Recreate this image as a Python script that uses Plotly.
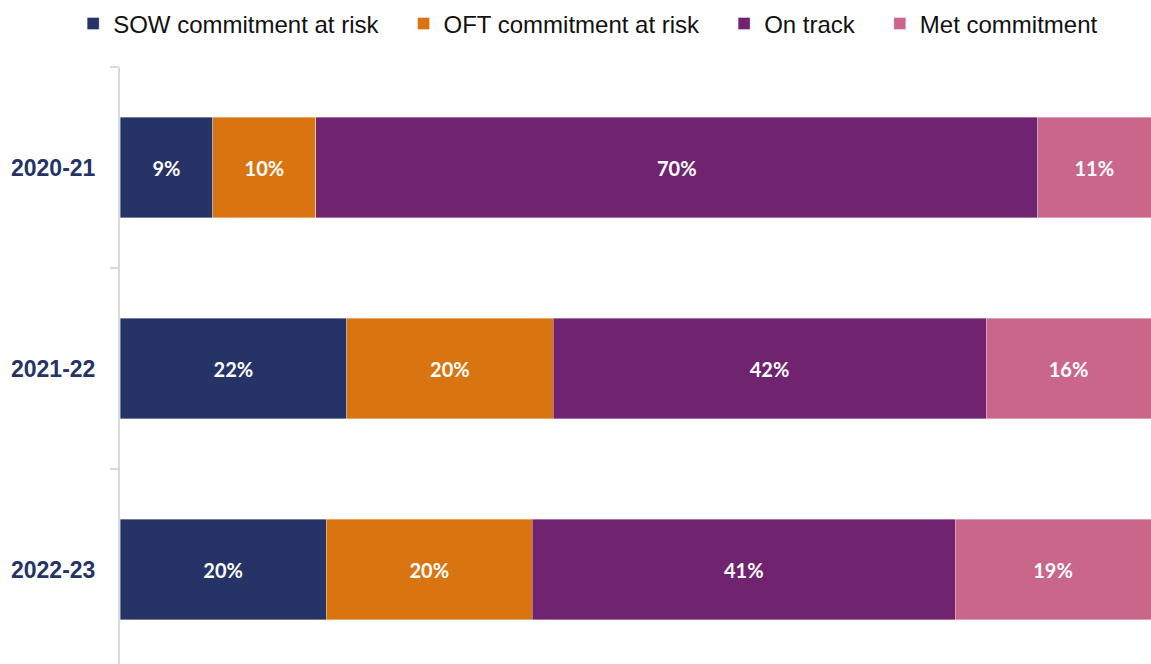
import plotly.graph_objects as go

years = ["2020-21", "2021-22", "2022-23"]
sow_at_risk = [9, 22, 20]
oft_at_risk = [10, 20, 20]
on_track = [70, 42, 41]
met = [11, 16, 19]

series = [
    ("SOW commitment at risk", sow_at_risk, "#263366"),
    ("OFT commitment at risk", oft_at_risk, "#D97511"),
    ("On track", on_track, "#70236F"),
    ("Met commitment", met, "#CB668B"),
]

# non-breaking padding widens the gap between legend entries
pad = "\u00a0" * 3

fig = go.Figure()
for i, (name, vals, color) in enumerate(series):
    fig.add_trace(go.Bar(
        name=name + (pad if i < len(series) - 1 else ""),
        y=years,
        x=vals,
        orientation="h",
        width=0.5,
        marker=dict(color=color, line=dict(color="rgba(255,255,255,0.6)", width=0.6)),
        text=[f"{v}%" for v in vals],
        textposition="inside",
        insidetextanchor="middle",
        textangle=0,
        textfont=dict(family="Lato", size=20, color="white", weight="bold"),
        hoverinfo="skip",
    ))

fig.update_layout(
    barmode="stack",
    width=1151,
    height=664,
    margin=dict(l=120, r=0, t=67, b=0),
    plot_bgcolor="white",
    paper_bgcolor="white",
    uniformtext=dict(mode="show", minsize=10),
    legend=dict(
        orientation="h",
        xref="container", yref="container",
        x=0.511, y=0.964,
        xanchor="center", yanchor="middle",
        font=dict(family="Liberation Sans, Arial", size=24, color="#111111"),
        itemwidth=30,
        traceorder="normal",
    ),
    xaxis=dict(range=[0, 100], visible=False, fixedrange=True),
    yaxis=dict(
        type="category",
        categoryorder="array",
        categoryarray=years,
        range=[2.47, -0.5],
        showline=True,
        linecolor="#d9d9d9",
        linewidth=2,
        ticks="outside",
        tickson="boundaries",
        ticklen=8,
        tickcolor="#d9d9d9",
        tickwidth=2,
        showgrid=False,
        ticklabelstandoff=18,
        tickfont=dict(family="Liberation Sans, Arial", size=23, color="#263366", weight="bold"),
    ),
)

fig.write_html("out.html")
